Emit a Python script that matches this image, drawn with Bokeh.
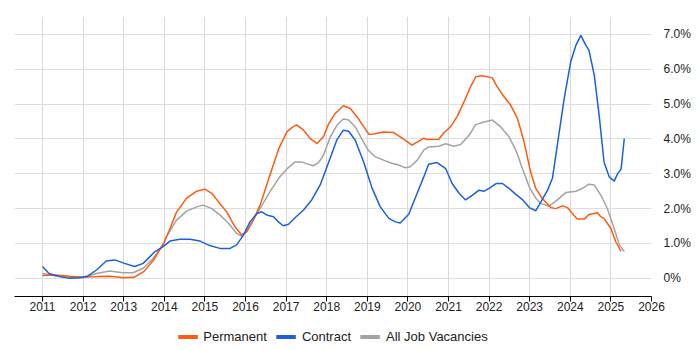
from bokeh.plotting import figure
from bokeh.models import Range1d, FixedTicker, Legend, LegendItem
from bokeh.layouts import column
from bokeh.embed import file_html
from bokeh.resources import INLINE

perm_x = [2011.0, 2011.33, 2011.67, 2012.0, 2012.33, 2012.67, 2013.0, 2013.25, 2013.5, 2013.75,
          2014.0, 2014.15, 2014.3, 2014.55, 2014.8, 2015.0, 2015.17, 2015.33, 2015.54, 2015.74,
          2015.9, 2016.03, 2016.19, 2016.36, 2016.6, 2016.83, 2017.02, 2017.15, 2017.26, 2017.43,
          2017.6, 2017.76, 2017.92, 2018.05, 2018.21, 2018.41, 2018.58, 2018.75, 2018.91, 2019.04,
          2019.16, 2019.4, 2019.65, 2019.81, 2019.98, 2020.1, 2020.25, 2020.39, 2020.47, 2020.76,
          2020.88, 2021.05, 2021.21, 2021.38, 2021.54, 2021.67, 2021.83, 2022.08, 2022.2, 2022.37,
          2022.53, 2022.7, 2022.86, 2023.02, 2023.15, 2023.31, 2023.52, 2023.64, 2023.81, 2023.93,
          2024.05, 2024.17, 2024.34, 2024.46, 2024.67, 2024.75, 2024.83, 2025.0, 2025.12, 2025.25]
perm_y = [0.08, 0.10, 0.06, 0.03, 0.05, 0.06, 0.02, 0.03, 0.2, 0.55,
          1.05, 1.45, 1.9, 2.3, 2.5, 2.56, 2.44, 2.2, 1.9, 1.48,
          1.25, 1.34, 1.67, 2.1, 2.96, 3.75, 4.2, 4.33, 4.4, 4.25,
          4.0, 3.87, 4.06, 4.44, 4.73, 4.95, 4.87, 4.63, 4.35, 4.13,
          4.14, 4.2, 4.18, 4.06, 3.92, 3.82, 3.92, 4.02, 3.98, 3.99,
          4.17, 4.35, 4.63, 5.06, 5.49, 5.78, 5.81, 5.75, 5.49, 5.21,
          4.97, 4.58, 3.92, 3.06, 2.58, 2.29, 2.03, 2.0, 2.08, 2.03,
          1.86, 1.7, 1.7, 1.83, 1.88, 1.77, 1.72, 1.43, 1.05, 0.78]

cont_x = [2011.0, 2011.16, 2011.42, 2011.67, 2011.91, 2012.12, 2012.33, 2012.57, 2012.78, 2013.02,
          2013.27, 2013.48, 2013.77, 2013.97, 2014.14, 2014.38, 2014.63, 2014.88, 2015.12, 2015.37,
          2015.62, 2015.78, 2015.95, 2016.11, 2016.28, 2016.4, 2016.52, 2016.69, 2016.81, 2016.93,
          2017.06, 2017.22, 2017.43, 2017.63, 2017.84, 2018.05, 2018.25, 2018.41, 2018.54, 2018.7,
          2018.91, 2019.12, 2019.32, 2019.53, 2019.69, 2019.81, 2020.02, 2020.23, 2020.39, 2020.51,
          2020.72, 2020.93, 2021.09, 2021.26, 2021.42, 2021.59, 2021.75, 2021.88, 2022.0, 2022.17,
          2022.33, 2022.49, 2022.66, 2022.82, 2022.99, 2023.15, 2023.27, 2023.44, 2023.56, 2023.68,
          2023.85, 2024.01, 2024.14, 2024.26, 2024.38, 2024.46, 2024.59, 2024.71, 2024.83, 2024.96,
          2025.08, 2025.17, 2025.25, 2025.33]
cont_y = [0.34, 0.14, 0.05, 0.0, 0.02, 0.07, 0.24, 0.5, 0.53, 0.43,
          0.34, 0.43, 0.77, 0.91, 1.07, 1.12, 1.12, 1.07, 0.94, 0.86,
          0.86, 0.96, 1.24, 1.62, 1.86, 1.91, 1.82, 1.77, 1.62, 1.51,
          1.55, 1.74, 1.96, 2.25, 2.68, 3.34, 3.97, 4.25, 4.22, 3.97,
          3.34, 2.58, 2.05, 1.72, 1.62, 1.59, 1.84, 2.45, 2.91, 3.27,
          3.32, 3.15, 2.72, 2.44, 2.25, 2.39, 2.53, 2.5, 2.58, 2.72,
          2.72, 2.58, 2.41, 2.26, 2.03, 1.94, 2.18, 2.53, 2.87, 3.82,
          5.16, 6.21, 6.69, 6.97, 6.69, 6.54, 5.83, 4.68, 3.34, 2.91,
          2.79, 3.01, 3.13, 4.01]

all_x = [2011.0, 2011.34, 2011.67, 2012.0, 2012.33, 2012.65, 2012.98, 2013.23, 2013.48, 2013.72,
         2013.97, 2014.05, 2014.3, 2014.55, 2014.8, 2014.96, 2015.17, 2015.37, 2015.58, 2015.78,
         2015.9, 2016.03, 2016.19, 2016.36, 2016.6, 2016.83, 2017.02, 2017.22, 2017.38, 2017.55,
         2017.67, 2017.8, 2017.92, 2018.09, 2018.25, 2018.41, 2018.54, 2018.7, 2018.86, 2019.02,
         2019.19, 2019.4, 2019.6, 2019.77, 2019.94, 2020.06, 2020.23, 2020.39, 2020.51, 2020.76,
         2020.93, 2021.13, 2021.3, 2021.51, 2021.67, 2021.83, 2022.08, 2022.28, 2022.49, 2022.66,
         2022.82, 2022.99, 2023.15, 2023.27, 2023.48, 2023.68, 2023.89, 2024.14, 2024.3, 2024.46,
         2024.59, 2024.75, 2024.91, 2025.08, 2025.21, 2025.33]
all_y = [0.14, 0.07, 0.03, 0.02, 0.14, 0.21, 0.16, 0.16, 0.29, 0.57,
         0.95, 1.19, 1.67, 1.93, 2.05, 2.1, 2.0, 1.82, 1.58, 1.29,
         1.21, 1.34, 1.67, 2.01, 2.48, 2.89, 3.14, 3.34, 3.34, 3.27,
         3.23, 3.32, 3.53, 4.06, 4.39, 4.57, 4.54, 4.35, 4.01, 3.68,
         3.49, 3.39, 3.3, 3.25, 3.17, 3.2, 3.39, 3.68, 3.77, 3.79,
         3.86, 3.79, 3.84, 4.11, 4.41, 4.47, 4.54, 4.35, 4.06, 3.68,
         3.15, 2.62, 2.3, 2.15, 2.07, 2.25, 2.46, 2.5, 2.58, 2.7,
         2.68, 2.39, 2.01, 1.43, 0.96, 0.77]

year_ticks = list(range(2011, 2027))
pct_ticks = [0, 1, 2, 3, 4, 5, 6, 7]
pct_labels = ["0%", "1.0%", "2.0%", "3.0%", "4.0%", "5.0%", "6.0%", "7.0%"]

series_names = ["Permanent", "Contract", "All Job Vacancies"]
series_colors = ["#FF5A0E", "#1A60E0", "#A3A3A3"]

FONT = "Liberation Sans"

p = figure(frame_width=637, frame_height=280,
           x_range=Range1d(2010.31, 2026.0), y_range=Range1d(-0.52, 7.51),
           y_axis_location="right", output_backend="svg", toolbar_location=None,
           min_border_left=14, min_border_top=16, min_border_right=4, min_border_bottom=28)

p.outline_line_color = None
p.background_fill_color = "white"
p.border_fill_color = "white"

p.xaxis.ticker = FixedTicker(ticks=year_ticks)
p.xaxis.minor_tick_line_color = None
p.xaxis.major_tick_out = 5
p.xaxis.major_tick_in = 0
p.xaxis.major_tick_line_color = "black"
p.xaxis.axis_line_color = "black"
p.xaxis.major_label_standoff = 0
p.xaxis.major_label_text_font = FONT
p.xaxis.major_label_text_font_size = "12px"
p.xaxis.major_label_text_color = "#222222"

p.yaxis.ticker = FixedTicker(ticks=pct_ticks)
p.yaxis.major_label_overrides = {t: l for t, l in zip(pct_ticks, pct_labels)}
p.yaxis.minor_tick_line_color = None
p.yaxis.major_tick_line_color = None
p.yaxis.axis_line_color = None
p.yaxis.major_label_standoff = 6
p.yaxis.major_label_text_font = FONT
p.yaxis.major_label_text_font_size = "12px"
p.yaxis.major_label_text_color = "#222222"

p.xgrid.ticker = FixedTicker(ticks=year_ticks)
p.xgrid.grid_line_color = "#d9d9d9"
p.ygrid.ticker = FixedTicker(ticks=pct_ticks)
p.ygrid.grid_line_color = "#dedede"

p.line(all_x, all_y, line_color=series_colors[2], line_width=1.5)
p.line(perm_x, perm_y, line_color=series_colors[0], line_width=1.5)
p.line(cont_x, cont_y, line_color=series_colors[1], line_width=1.5)

# legend-only strip below the chart
lf = figure(frame_width=637, frame_height=24, x_axis_type=None, y_axis_type=None,
            x_range=Range1d(0, 1), y_range=Range1d(0, 1),
            output_backend="svg", toolbar_location=None,
            min_border_left=14, min_border_right=0, min_border_top=0, min_border_bottom=0)
lf.outline_line_color = None
lf.xgrid.visible = False
lf.ygrid.visible = False

items = []
for name, col in zip(series_names, series_colors):
    r = lf.line(x=[float("nan")], y=[float("nan")], line_color=col, line_width=4)
    items.append(LegendItem(label=name, renderers=[r]))

legend = Legend(items=items, orientation="horizontal", location="center",
                glyph_width=20, glyph_height=14, label_height=14, label_standoff=6, spacing=9,
                label_text_font=FONT, label_text_font_size="13px", label_text_color="#222222",
                border_line_color=None, background_fill_alpha=0, padding=0, margin=0)
lf.add_layout(legend, "center")

layout = column(p, lf, spacing=0)
open("out.html", "w").write(file_html(layout, INLINE))
